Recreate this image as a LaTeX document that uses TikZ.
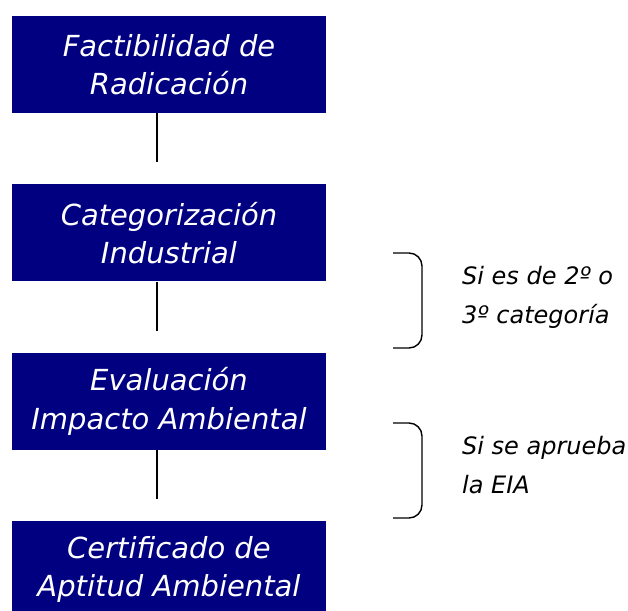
\documentclass[tikz,border=0pt]{standalone}
\usepackage{fontspec}
\setmainfont{DejaVu Sans}
\usepackage{tikz}
\usetikzlibrary{positioning}
\definecolor{boxblue}{RGB}{0,0,128}
\tikzstyle{stage} = [rectangle, fill=boxblue, text=white, align=center, inner sep=0pt,
  minimum width=314pt, minimum height=97pt, font=\fontsize{29}{38.5}\selectfont\itshape]
\tikzstyle{link} = [coordinate]
\tikzstyle{note} = [align=left, anchor=base west, inner sep=0pt,
  font=\fontsize{24}{38.5}\selectfont\itshape]
\tikzstyle{bracket} = [draw, line width=1.4pt, rounded corners=13pt]

\begin{document}
\begin{tikzpicture}[x=1pt, y=-1pt, node distance=71pt]
    \useasboundingbox (0,0) rectangle (628,610);
    % We start by placing the blocks
    \node [stage] (radic) at (169,64.5) {Factibilidad de\\Radicación};
    \node [stage, below=of radic] (categ) {Categorización\\Industrial};
    \node [stage, below=of categ] (impact) {Evaluación\\Impacto Ambiental};
    \node [stage, below=of impact] (certif) {Certificado de\\Aptitud Ambiental};

    % free ends of the short lines
    \node [link, below=49pt of radic.south, xshift=-12pt] (radicend) {};
    \node [link, below=49pt of categ.south, xshift=-12pt] (categend) {};
    \node [link, below=49pt of impact.south, xshift=-12pt] (impactend) {};

    % Once the nodes are placed, connecting them is easy.
    \draw [line width=1.5pt] ([xshift=-12pt]radic.south) -- (radicend);
    \draw [line width=1.5pt] ([xshift=-12pt]categ.south) -- (categend);
    \draw [line width=1.5pt] ([xshift=-12pt]impact.south) -- (impactend);

    % brackets and their notes
    \draw [bracket] (393,253) -- (422,253) -- (422,348) -- (393,348);
    \draw [bracket] (393,423) -- (422,423) -- (422,518) -- (393,518);
    \node [note] (catnote) at (462,323) {Si es de 2º o\\3º categoría};
    \node [note] (eianote) at (462,493) {Si se aprueba\\la EIA};
\end{tikzpicture}
\end{document}
